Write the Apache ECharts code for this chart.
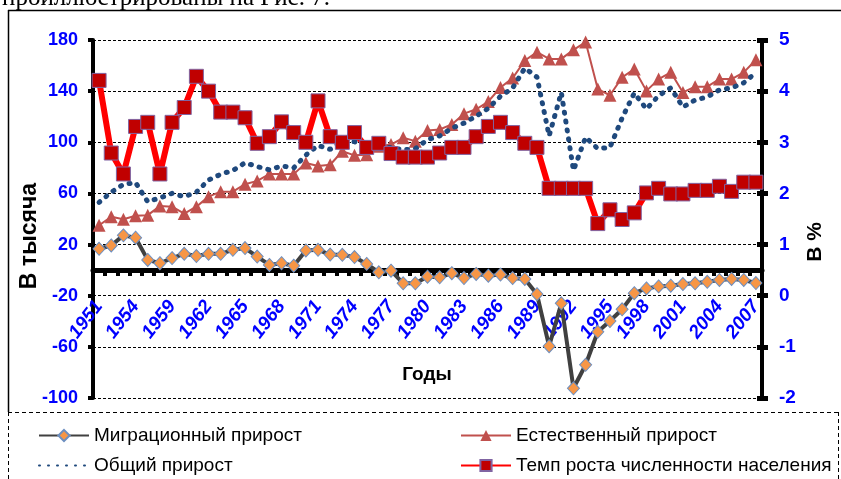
<!DOCTYPE html>
<html><head><meta charset="utf-8">
<script src="https://cdn.jsdelivr.net/npm/echarts@6/dist/echarts.min.js"></script>
<style>html,body{margin:0;padding:0;background:#fff}#c{width:841px;height:479px}</style>
</head><body><div id="c"></div>
<script>
const years = ['1951','1952','1953','1954','1955','1958','1959','1960','1961','1962','1963','1964','1965','1966','1967','1968','1969','1970','1971','1972','1973','1974','1975','1976','1977','1978','1979','1980','1981','1982','1983','1984','1985','1986','1987','1988','1989','1990','1991','1992','1993','1994','1995','1996','1997','1998','1999','2000','2001','2002','2003','2004','2005','2006','2007'];
const migration = [16.7,19.3,27.2,25.4,8.0,5.4,9.4,12.8,11.0,12.8,12.8,15.9,17.3,10.6,4.1,5.4,3.5,15.4,15.9,12.2,12.0,10.2,4.9,-1.7,-0.4,-10.3,-10.3,-5.1,-5.6,-2.4,-6.2,-3.0,-4.3,-3.5,-6.2,-6.9,-18.8,-59.5,-25.9,-92.4,-74.0,-48.2,-39.8,-30.6,-18.0,-14.3,-12.7,-12.2,-10.9,-10.3,-9.1,-7.7,-6.9,-7.7,-10.1];
const natural = [35.1,41.7,39.8,42.5,43.0,50.1,49.6,44.3,49.6,57.5,61.4,61.4,67.2,69.8,75.1,75.1,75.1,83.8,81.5,82.4,93.0,89.8,90.3,96.9,98.2,103.5,100.9,109.2,110.0,114.0,122.4,125.8,131.9,142.9,150.2,164.0,170.5,165.2,165.2,172.3,178.4,141.6,136.8,150.8,157.3,140.2,149.4,154.7,139.0,143.5,143.5,149.4,149.4,154.7,164.5];
const total = [53,61,67,68.5,53.5,56.5,60,57.5,61,70.5,75,78,84,81,78.5,81.5,80,90,97.5,94.5,101,100.5,97,95.5,96,94,95,102,105,111,115,120.5,126.5,136,142.5,158,151,105,139,78,104,95,96,119,138.5,126,136.5,142.5,127.5,133,135.5,141,142.5,146.5,154.5];
const rate = [4.21,2.79,2.38,3.31,3.39,2.38,3.39,3.68,4.29,4.00,3.59,3.59,3.48,2.98,3.11,3.40,3.19,3.00,3.81,3.11,3.00,3.19,2.90,2.98,2.78,2.71,2.71,2.71,2.79,2.90,2.90,3.11,3.31,3.39,3.19,2.98,2.90,2.10,2.10,2.10,2.10,1.41,1.68,1.49,1.62,2.01,2.10,1.99,1.99,2.06,2.06,2.14,2.04,2.22,2.22];
const seriesNames = ['Миграционный прирост','Естественный прирост','Общий прирост','Темп роста численности населения'];

const SANS = "'Liberation Sans',Arial,sans-serif";
const chart = echarts.init(document.getElementById('c'), null, {renderer:'canvas'});
const legendText = {color:'#000',fontSize:19,fontFamily:SANS};
function lg(item, left, top){
  return {left:left,top:top,orient:'horizontal',itemWidth:50,itemHeight:14,padding:0,
    data:[item],textStyle:legendText,selectedMode:false};
}
chart.setOption({
  animation:false,
  backgroundColor:'#fff',
  grid:{left:93,right:79,top:40,bottom:81,containLabel:false},
  xAxis:{type:'category',data:years,boundaryGap:true,position:'bottom',offset:-128,
    axisLine:{onZero:false,lineStyle:{color:'#000',width:5}},
    axisTick:{show:true,interval:0,length:6,lineStyle:{color:'#000',width:4}},
    axisLabel:{interval:2,rotate:52,margin:33,color:'#0000ff',fontWeight:'bold',fontStyle:'italic',fontSize:19,fontFamily:SANS},
    splitLine:{show:false}},
  yAxis:[
    {type:'value',min:-100,max:180,interval:40,
     axisLine:{show:true,lineStyle:{color:'#000',width:4}},
     axisTick:{show:true,length:5,lineStyle:{color:'#000',width:4}},
     axisLabel:{margin:15,color:'#0000ff',fontWeight:'bold',fontSize:18,fontFamily:SANS},
     splitLine:{show:true,lineStyle:{color:'#000',width:1,type:[3,2]}}},
    {type:'value',min:-2,max:5,interval:1,position:'right',
     axisLine:{show:true,lineStyle:{color:'#000',width:4}},
     axisTick:{show:true,length:6,lineStyle:{color:'#000',width:5}},
     axisLabel:{margin:17,color:'#0000ff',fontWeight:'bold',fontSize:19,fontFamily:SANS},
     splitLine:{show:false}},
    {type:'value',min:-2,max:5,interval:1,position:'right',
     axisLine:{show:false},
     axisTick:{show:true,inside:true,length:5,lineStyle:{color:'#000',width:5}},
     axisLabel:{show:false},
     splitLine:{show:false}}
  ],
  legend:[
    lg(seriesNames[0],38,426),
    lg({name:seriesNames[2],itemStyle:{opacity:0}},38,456),
    lg(seriesNames[1],460,426),
    lg(seriesNames[3],460,456)
  ],
  series:[
    {name:seriesNames[0],type:'line',yAxisIndex:0,data:migration,symbol:'diamond',symbolSize:[12,13],showAllSymbol:true,
     lineStyle:{color:'#404040',width:4},itemStyle:{color:'#F79646',borderColor:'#6D8FC0',borderWidth:1},z:3},
    {name:seriesNames[1],type:'line',yAxisIndex:0,data:natural,symbol:'triangle',symbolSize:[13,13],showAllSymbol:true,
     lineStyle:{color:'#C0504D',width:2},itemStyle:{color:'#C0504D'},z:4},
    {name:seriesNames[2],type:'line',yAxisIndex:0,data:total,symbol:'none',
     lineStyle:{color:'#1F497D',width:5,type:[1,8],cap:'round'},itemStyle:{color:'#1F497D'},z:5},
    {name:seriesNames[3],type:'line',yAxisIndex:1,data:rate,symbol:'rect',symbolSize:14,showAllSymbol:true,
     lineStyle:{color:'#FF0000',width:6},itemStyle:{color:'#C00000',borderColor:'#8064A2',borderWidth:1},z:6}
  ],
  graphic:[
    {type:'text',x:2,y:-2,style:{text:'проиллюстрированы на Рис. 7.',font:"25px 'Liberation Serif','Times New Roman',serif",fill:'#000',verticalAlign:'middle'}},
    {type:'line',shape:{x1:8,y1:10.5,x2:841,y2:10.5},style:{stroke:'#000',lineWidth:1.5}},
    {type:'line',shape:{x1:8.5,y1:10,x2:8.5,y2:412},style:{stroke:'#000',lineWidth:1.5}},
    {type:'line',shape:{x1:8,y1:412.5,x2:841,y2:412.5},style:{stroke:'#000',lineWidth:1,lineDash:[4,3]}},
    {type:'line',shape:{x1:8.5,y1:412,x2:8.5,y2:479},style:{stroke:'#000',lineWidth:1,lineDash:[4,3]}},
    {type:'line',shape:{x1:838.5,y1:412,x2:838.5,y2:479},style:{stroke:'#000',lineWidth:1,lineDash:[4,3]}},
    {type:'text',x:30,y:236,rotation:Math.PI/2,style:{text:'В тысяча',font:"bold 23px "+SANS,fill:'#000',align:'center',verticalAlign:'middle'}},
    {type:'text',x:815,y:242,rotation:Math.PI/2,style:{text:'В %',font:"bold 21px "+SANS,fill:'#000',align:'center',verticalAlign:'middle'}},
    {type:'text',x:427,y:375,style:{text:'Годы',font:"bold 19px "+SANS,fill:'#000',align:'center',verticalAlign:'middle'}}
  ]
});
</script></body></html>
